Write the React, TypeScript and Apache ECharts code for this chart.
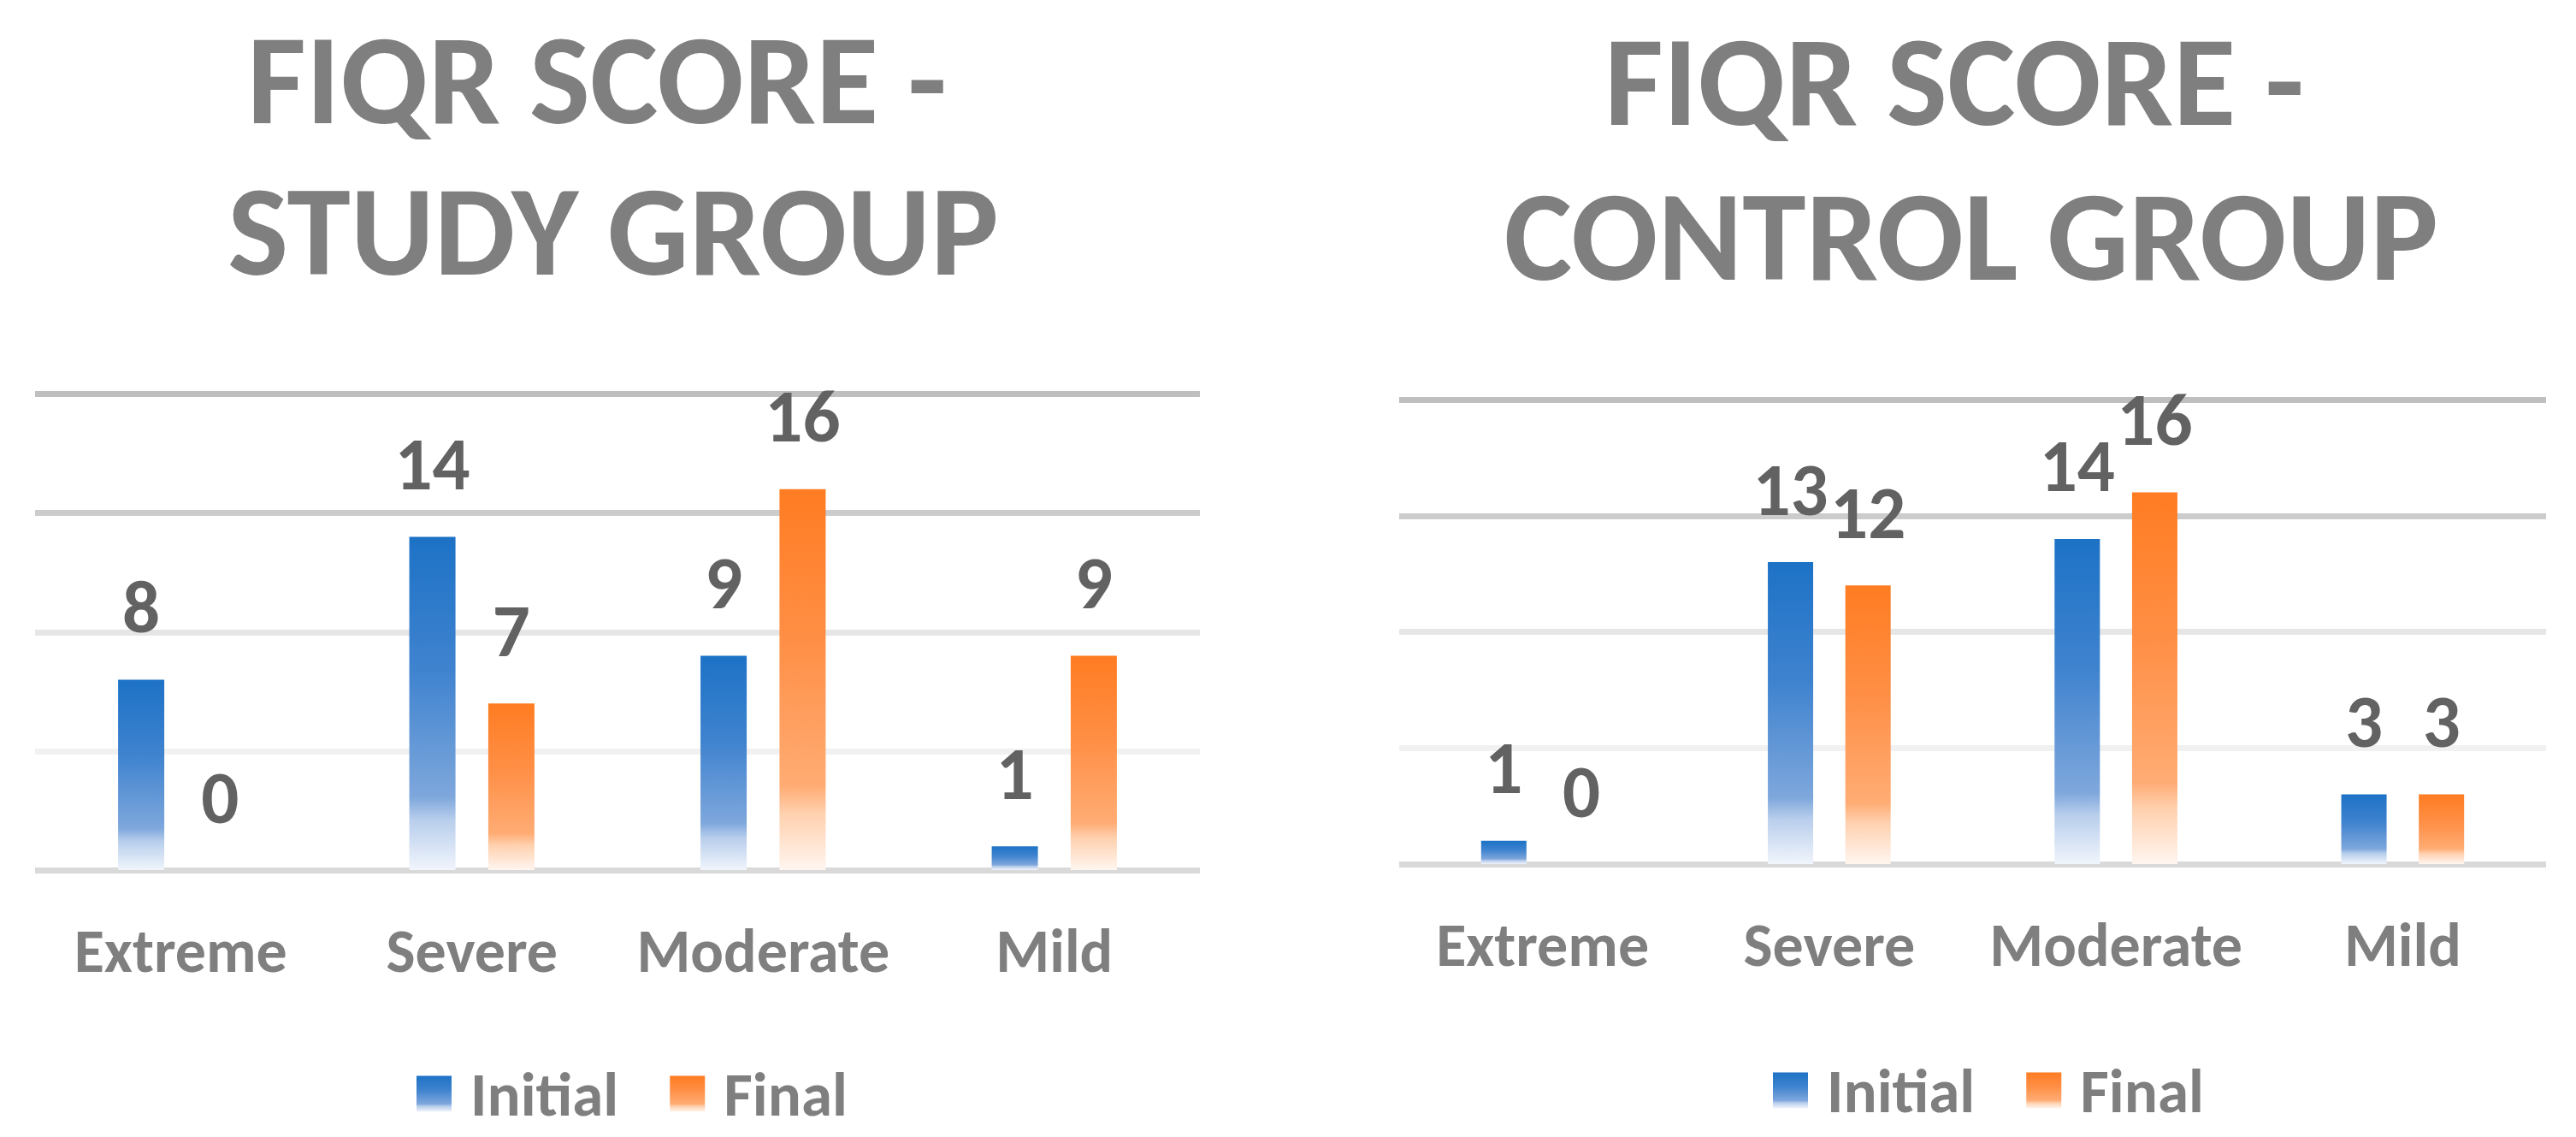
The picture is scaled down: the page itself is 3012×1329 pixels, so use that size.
import React, { useEffect, useRef } from 'react';
import * as echarts from 'echarts';

const categories = ['Extreme', 'Severe', 'Moderate', 'Mild'];
const seriesNames = ['Initial', 'Final'];
const studyInitial = [8, 14, 9, 1];
const studyFinal = [0, 7, 16, 9];
const controlInitial = [1, 13, 14, 3];
const controlFinal = [0, 12, 16, 3];
const studyTitleLines = ['FIQR SCORE -', 'STUDY GROUP'];
const controlTitleLines = ['FIQR SCORE -', 'CONTROL GROUP'];
const yMin = 0;
const yMax = 20;
const yInterval = 5;

const FONT = "Carlito, Lato, 'Open Sans', sans-serif";
const TEXT_GREY = '#7F7F7F';
const LABEL_GREY = '#626262';
// split line colours from value 0 upwards
const gridColors = ['#D9D9D9', '#F1F1F1', '#E6E6E6', '#CCCCCC', '#BFBFBF'];

const blueGrad = () =>
  new echarts.graphic.LinearGradient(0, 0, 0, 1, [
    { offset: 0, color: '#1D72C6' },
    { offset: 0.4, color: '#3F83CF' },
    { offset: 0.78, color: '#7EA7DC' },
    { offset: 0.85, color: '#B8CEEC' },
    { offset: 1, color: '#F1F5FC' },
  ]);
const orangeGrad = () =>
  new echarts.graphic.LinearGradient(0, 0, 0, 1, [
    { offset: 0, color: '#FF7C22' },
    { offset: 0.4, color: '#FF8F46' },
    { offset: 0.78, color: '#FFAC74' },
    { offset: 0.85, color: '#FFD0AE' },
    { offset: 1, color: '#FFF6F0' },
  ]);

export default function App() {
  const ref = useRef<HTMLDivElement>(null);
  useEffect(() => {
    if (!ref.current) return;
    const chart = echarts.init(ref.current, undefined, { renderer: 'svg' });

    const grids = [
      { left: 41, right: 3012 - 1403, top: 460.5, height: 556.5 },
      { left: 1636, right: 3012 - 2977, top: 467, height: 543 },
    ];
    const barWidths = [54, 53];
    const data = [
      [studyInitial, studyFinal],
      [controlInitial, controlFinal],
    ];

    const series: any[] = [];
    data.forEach((pair, gi) => {
      pair.forEach((vals, si) => {
        series.push({
          type: 'bar',
          name: seriesNames[si],
          xAxisIndex: gi,
          yAxisIndex: gi,
          data: vals,
          barWidth: barWidths[gi],
          barGap: '71%',
          itemStyle: { color: si === 0 ? blueGrad() : orangeGrad() },
          label: {
            show: true,
            position: 'top',
            distance: 42,
            fontFamily: FONT,
            fontWeight: 'bold',
            fontSize: 87,
            color: LABEL_GREY,
          },
        });
      });
    });

    const TITLE_LH = 150;
    const titleSpecs = [
      { text: studyTitleLines[0], cx: 698, cy: 92 },
      { text: studyTitleLines[1], cx: 717, cy: 269 },
      { text: controlTitleLines[0], cx: 2285, cy: 94 },
      { text: controlTitleLines[1], cx: 2305, cy: 275 },
    ];

    chart.setOption({
      animation: false,
      backgroundColor: '#FFFFFF',
      title: titleSpecs.map((t) => ({
        text: t.text,
        left: t.cx,
        top: t.cy - TITLE_LH / 2,
        padding: 0,
        textAlign: 'center',
        textStyle: {
          fontFamily: FONT,
          fontWeight: 'bold',
          fontSize: 150,
          lineHeight: TITLE_LH,
          color: TEXT_GREY,
        },
      })),
      legend: [
        { left: 487, top: 1242 },
        { left: 2073, top: 1238 },
      ].map((l) => ({
        ...l,
        data: seriesNames,
        icon: 'rect',
        itemWidth: 41,
        itemHeight: 42,
        itemGap: 60,
        padding: 0,
        selectedMode: false,
        textStyle: {
          fontFamily: FONT,
          fontWeight: 'bold',
          fontSize: 73,
          lineHeight: 67,
          color: TEXT_GREY,
          padding: [0, 0, 0, 17],
        },
      })),
      grid: grids.map((g) => ({ ...g, containLabel: false })),
      xAxis: grids.map((_, i) => ({
        type: 'category',
        gridIndex: i,
        data: categories,
        axisLine: { show: false },
        axisTick: { show: false },
        axisLabel: {
          interval: 0,
          margin: 58,
          fontFamily: FONT,
          fontWeight: 'bold',
          fontSize: 72,
          color: TEXT_GREY,
        },
      })),
      yAxis: grids.map((_, i) => ({
        type: 'value',
        gridIndex: i,
        min: yMin,
        max: yMax,
        interval: yInterval,
        axisLine: { show: false },
        axisTick: { show: false },
        axisLabel: { show: false },
        splitLine: { show: true, lineStyle: { color: gridColors, width: 7 } },
      })),
      series,
    });
    return () => chart.dispose();
  }, []);
  return (
    <div
      ref={ref}
      style={{ position: 'fixed', left: 0, top: 0, width: 3012, height: 1329, background: '#fff' }}
    />
  );
}
